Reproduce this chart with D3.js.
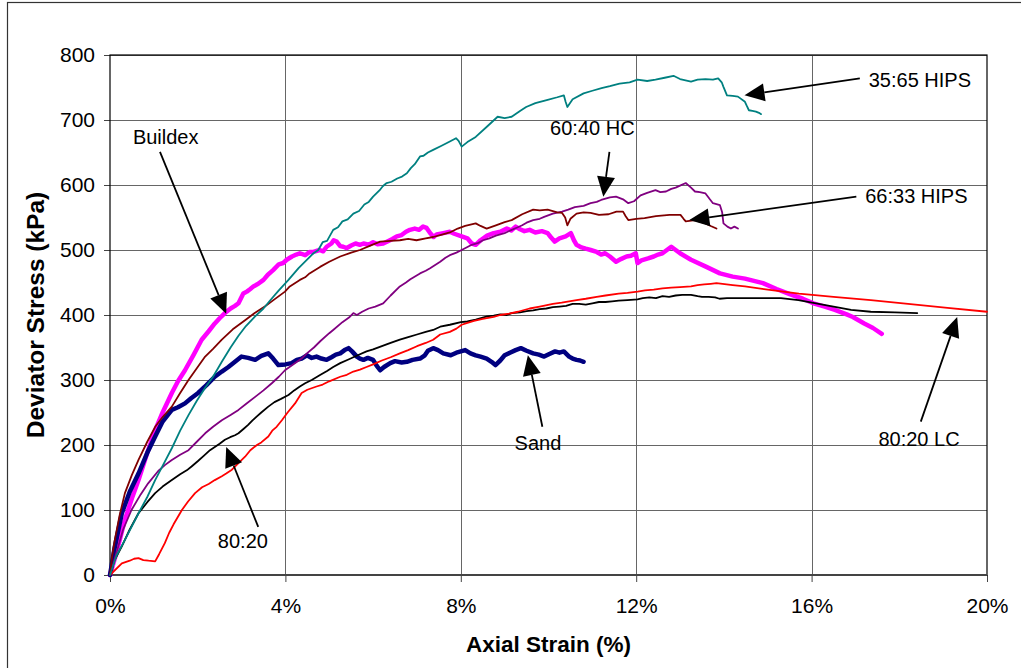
<!DOCTYPE html>
<html>
<head>
<meta charset="utf-8">
<script src="https://cdn.jsdelivr.net/npm/d3@7"></script>
<style>
  html, body { margin: 0; padding: 0; background: #fff; }
  svg { display: block; font-family: "Liberation Sans", Arial, sans-serif; }
</style>
</head>
<body>
<svg id="chart" width="1021" height="668"></svg>
<script>
// Axis ticks
const xTicks = [0, 4, 8, 12, 16, 20];
const xTickLabels = ["0%", "4%", "8%", "12%", "16%", "20%"];
const yTicks = [0, 100, 200, 300, 400, 500, 600, 700, 800];

// Triaxial test curves: [axial strain %, deviator stress kPa]
const buildex = [
  [0,0],[0.15,35],[0.34,85],[0.5,118],[0.65,146],[0.85,188],[1.03,223],[1.2,250],[1.41,280],
  [1.55,298],[1.71,315],[1.9,338],[2.09,362],[2.25,375],[2.39,387],[2.5,395],[2.62,403],
  [2.75,410],[2.85,414],[2.93,418],[3.04,433],[3.12,436],[3.2,440],[3.27,444],[3.38,448],
  [3.5,454],[3.6,462],[3.72,469],[3.85,478],[3.95,480],[4.03,485],[4.15,490],[4.25,493],
  [4.33,495],[4.45,492],[4.55,497],[4.64,497],[4.78,500],[4.86,498],[4.94,505],[5.05,510],
  [5.1,515],[5.17,513],[5.25,506],[5.32,505],[5.4,503],[5.5,507],[5.6,510],[5.7,508],
  [5.78,510],[5.9,508],[6.0,512],[6.1,509],[6.23,510],[6.35,514],[6.44,517],[6.54,521],
  [6.65,523],[6.75,528],[6.84,531],[6.95,533],[7.05,531],[7.14,536],[7.22,534],[7.3,526],
  [7.38,520],[7.45,524],[7.6,526],[7.75,528],[7.85,525],[8.02,521],[8.15,518],[8.25,510],
  [8.34,508],[8.45,515],[8.6,522],[8.75,526],[8.9,528],[9.05,533],[9.15,530],[9.25,536],
  [9.35,532],[9.45,529],[9.57,531],[9.7,527],[9.85,529],[9.98,526],[10.05,520],[10.14,513],
  [10.25,518],[10.39,521],[10.51,526],[10.58,515],[10.64,508],[10.75,504],[10.85,502],[10.96,500],
  [11.1,497],[11.2,493],[11.29,495],[11.4,490],[11.54,482],[11.65,486],[11.78,490],[11.88,491],
  [11.99,495],[12.03,480],[12.12,484],[12.27,487],[12.4,490],[12.5,493],[12.6,495],[12.7,500],
  [12.8,505],[12.9,500],[13.0,495],[13.25,485],[13.6,474],[13.91,464],[14.2,459],[14.48,456],
  [14.89,449],[15.2,440],[15.5,432],[15.8,425],[16.04,418],[16.3,413],[16.53,408],[16.8,401],
  [16.94,397],[17.2,387],[17.4,380],[17.6,371]
];

const sand = [
  [0,0],[0.1,40],[0.27,95],[0.45,128],[0.65,156],[0.85,188],[1.03,213],[1.2,236],[1.41,254],
  [1.55,258],[1.71,264],[1.85,272],[2.01,280],[2.2,292],[2.39,305],[2.55,313],[2.7,320],
  [2.85,328],[3.0,336],[3.15,334],[3.31,331],[3.45,337],[3.61,341],[3.72,333],[3.84,323],
  [4.0,324],[4.14,326],[4.26,331],[4.37,333],[4.49,338],[4.6,334],[4.71,336],[4.82,333],
  [4.94,331],[5.05,335],[5.15,339],[5.25,341],[5.35,346],[5.44,349],[5.52,344],[5.63,336],
  [5.7,333],[5.78,331],[5.88,334],[6.0,331],[6.08,322],[6.16,315],[6.25,320],[6.39,326],
  [6.5,329],[6.65,327],[6.77,328],[6.9,331],[7.07,333],[7.18,338],[7.25,345],[7.37,349],
  [7.48,346],[7.6,341],[7.77,338],[7.9,342],[8.1,346],[8.22,341],[8.34,338],[8.45,336],
  [8.59,333],[8.7,328],[8.79,323],[8.9,330],[9.0,338],[9.12,342],[9.25,346],[9.37,349],
  [9.5,345],[9.65,341],[9.78,339],[9.9,336],[10.02,340],[10.15,344],[10.25,342],[10.35,344],
  [10.47,336],[10.55,333],[10.64,331],[10.72,330],[10.8,328]
];

const mix8020 = [
  [0,0],[0.1,22],[0.27,44],[0.45,70],[0.65,95],[0.85,112],[1.03,126],[1.2,136],[1.41,146],
  [1.6,155],[1.75,161],[1.86,167],[2.0,175],[2.15,184],[2.28,192],[2.39,197],[2.5,202],
  [2.62,208],[2.74,212],[2.85,215],[2.93,218],[3.05,225],[3.15,231],[3.25,238],[3.35,244],
  [3.45,250],[3.61,259],[3.75,266],[3.9,271],[4.07,277],[4.2,284],[4.33,290],[4.45,295],
  [4.6,300],[4.8,308],[4.95,314],[5.09,320],[5.25,326],[5.45,332],[5.65,338],[5.85,344],
  [6.0,347],[6.2,352],[6.4,357],[6.61,362],[6.8,366],[7.0,370],[7.2,374],[7.37,377],
  [7.53,382],[7.75,385],[8.0,389],[8.15,390],[8.34,393],[8.5,396],[8.6,398],[8.75,399],
  [8.9,401],[9.05,400],[9.16,403],[9.35,404],[9.5,406],[9.65,407],[9.8,409],[9.95,410],
  [10.1,412],[10.25,413],[10.4,414],[10.55,417],[10.7,417],[10.85,416],[11.0,418],[11.15,420],
  [11.3,420],[11.45,421],[11.6,422],[11.8,423],[12.03,424],[12.15,426],[12.3,427],[12.45,426],
  [12.6,429],[12.75,428],[12.9,430],[13.05,431],[13.25,431],[13.4,429],[13.5,428],[13.65,428],
  [13.8,427],[13.9,425],[14.07,426],[14.5,426],[15.0,426],[15.3,426],[15.7,423],[16.1,418],
  [16.5,413],[16.9,408],[17.35,405],[17.9,404],[18.41,403]
];

const mix8020LC = [
  [0,0],[0.27,18],[0.45,22],[0.55,25],[0.65,26],[0.76,23],[0.88,22],[1.03,21],[1.12,32],
  [1.25,49],[1.35,65],[1.45,78],[1.64,100],[1.78,113],[1.94,126],[2.1,135],[2.25,140],
  [2.39,146],[2.55,152],[2.65,156],[2.78,162],[2.93,172],[3.08,182],[3.2,192],[3.35,200],
  [3.45,204],[3.61,213],[3.7,222],[3.8,228],[3.92,238],[4.05,250],[4.22,264],[4.37,280],
  [4.5,285],[4.71,290],[4.85,293],[5.0,298],[5.25,305],[5.4,308],[5.55,313],[5.7,316],
  [5.85,320],[6.0,324],[6.2,330],[6.4,335],[6.61,341],[6.8,346],[7.0,352],[7.2,357],
  [7.37,362],[7.53,370],[7.75,374],[7.9,379],[8.02,385],[8.15,388],[8.3,391],[8.5,394],
  [8.75,397],[8.9,400],[9.1,402],[9.3,405],[9.57,410],[9.8,413],[10.1,417],[10.3,419],
  [10.64,423],[10.85,425],[11.1,428],[11.3,430],[11.6,433],[11.8,434],[12.03,436],[12.2,438],
  [12.4,439],[12.6,441],[12.8,442],[13.0,443],[13.25,444],[13.4,446],[13.55,447],[13.7,448],
  [13.83,449],[14.2,446],[14.48,444],[15.0,439],[15.71,433],[16.5,428],[17.35,423],[18.2,417],
  [19.1,411],[20.0,405]
];

const hc6040 = [
  [0,0],[0.15,35],[0.3,70],[0.49,100],[0.7,124],[0.87,141],[1.1,160],[1.25,169],[1.41,177],
  [1.6,185],[1.79,192],[1.98,205],[2.17,218],[2.35,228],[2.55,238],[2.75,246],[2.93,254],
  [3.1,263],[3.31,274],[3.5,284],[3.69,295],[3.85,305],[3.99,315],[4.2,325],[4.37,333],
  [4.49,341],[4.65,350],[4.8,360],[5.0,372],[5.09,377],[5.3,389],[5.45,396],[5.55,403],
  [5.63,400],[5.75,405],[5.9,410],[6.05,413],[6.23,418],[6.4,430],[6.61,444],[6.75,450],
  [6.85,455],[7.07,464],[7.2,468],[7.3,472],[7.53,482],[7.65,488],[7.75,492],[7.9,496],
  [8.02,500],[8.25,508],[8.4,511],[8.51,515],[8.65,518],[8.8,522],[9.0,526],[9.16,531],
  [9.3,535],[9.4,538],[9.5,542],[9.65,546],[9.8,548],[9.9,551],[10.1,556],[10.31,559],
  [10.45,562],[10.6,566],[10.8,568],[10.96,572],[11.1,574],[11.2,577],[11.4,581],[11.54,582],
  [11.7,578],[11.82,572],[11.95,575],[12.1,584],[12.25,588],[12.44,592],[12.55,589],[12.68,590],
  [12.8,594],[12.9,596],[13.0,599],[13.13,603],[13.25,596],[13.34,590],[13.45,589],[13.58,587],
  [13.68,578],[13.75,572],[13.91,569],[13.96,558],[13.99,541],[14.08,536],[14.16,533],[14.24,536],
  [14.32,533]
];

const hips6633 = [
  [0,0],[0.05,30],[0.11,54],[0.22,92],[0.34,126],[0.5,154],[0.65,177],[0.85,205],[1.03,228],
  [1.2,243],[1.41,259],[1.6,280],[1.79,300],[1.98,318],[2.17,336],[2.35,348],[2.55,362],
  [2.8,378],[3.08,392],[3.3,403],[3.53,413],[3.75,424],[3.99,436],[4.1,444],[4.33,454],
  [4.45,458],[4.55,464],[4.79,474],[5.0,482],[5.25,490],[5.5,496],[5.7,500],[5.95,507],
  [6.16,513],[6.4,514],[6.61,515],[6.8,517],[6.99,515],[7.2,518],[7.37,520],[7.53,523],
  [7.75,527],[7.93,533],[8.1,537],[8.34,541],[8.45,537],[8.59,533],[8.8,538],[9.0,543],
  [9.16,546],[9.4,555],[9.65,562],[9.8,561],[9.98,562],[10.2,558],[10.31,557],[10.38,550],
  [10.43,538],[10.5,548],[10.64,556],[10.8,558],[10.96,557],[11.15,554],[11.37,555],[11.55,559],
  [11.7,559],[11.76,552],[11.82,546],[12.0,548],[12.19,549],[12.45,552],[12.76,554],[13.01,554],
  [13.08,548],[13.13,544],[13.34,546],[13.58,541],[13.7,537],[13.83,533]
];

const hips3565 = [
  [0,0],[0.15,30],[0.34,54],[0.65,95],[0.85,120],[1.03,146],[1.2,168],[1.41,195],[1.6,222],
  [1.79,246],[1.98,268],[2.17,288],[2.35,305],[2.55,328],[2.75,350],[2.93,368],[3.1,383],
  [3.31,398],[3.5,410],[3.66,423],[3.85,438],[4.07,454],[4.3,472],[4.64,495],[4.75,500],
  [4.85,512],[4.95,514],[5.09,531],[5.2,535],[5.3,544],[5.42,547],[5.55,556],[5.68,560],
  [5.8,570],[5.9,574],[6.0,582],[6.15,592],[6.22,598],[6.31,603],[6.42,605],[6.55,610],
  [6.66,613],[6.77,618],[6.86,626],[6.95,632],[7.07,644],[7.15,645],[7.25,650],[7.37,654],
  [7.55,660],[7.75,667],[7.89,672],[7.95,668],[8.02,659],[8.15,666],[8.34,674],[8.6,690],
  [8.84,705],[9.0,703],[9.16,705],[9.35,714],[9.49,720],[9.7,726],[9.98,731],[10.2,735],
  [10.35,738],[10.39,728],[10.43,720],[10.55,732],[10.8,741],[11.0,745],[11.21,749],[11.4,752],
  [11.62,756],[11.85,758],[12.03,762],[12.25,760],[12.44,762],[12.65,765],[12.85,768],[13.0,763],
  [13.25,759],[13.4,762],[13.58,763],[13.75,762],[13.87,764],[13.95,758],[13.99,751],[14.07,738],
  [14.2,737],[14.32,736],[14.48,728],[14.52,722],[14.57,715],[14.65,714],[14.73,713],[14.8,711],
  [14.85,709]
];

// Curve labels with arrows: text anchor, arrow start and arrow tip in data units
const labelNames = ["Buildex", "60:40 HC", "35:65 HIPS", "66:33 HIPS", "Sand", "80:20 LC", "80:20"];
const labelText  = [[1.27,663],[11.0,677],[18.47,751],[18.39,572],[9.76,192],[18.45,199],[3.03,41]];
const arrowFrom  = [[1.14,651],[11.39,651],[17.1,764],[17.02,582],[9.86,228],[18.49,236],[3.38,74]];
const arrowTo    = [[2.65,402],[11.25,582],[14.47,738],[13.21,546],[9.53,338],[19.32,397],[2.65,197]];

const W = 1021, H = 668;
const margin = { left: 110, right: W - 987, top: 55, bottom: H - 575 };
const svg = d3.select("#chart");

// outer frame
svg.append("rect")
  .attr("x", 7.5).attr("y", 2.5).attr("width", W + 20).attr("height", H + 20)
  .attr("fill", "none").attr("stroke", "#333").attr("stroke-width", 1.2);

const x = d3.scaleLinear().domain([0, 20]).range([margin.left, W - margin.right]);
const y = d3.scaleLinear().domain([0, 800]).range([H - margin.bottom, margin.top]);

// gridlines
const grid = svg.append("g").attr("stroke", "#666").attr("stroke-width", 1);
grid.selectAll("line.h").data(yTicks.filter(v => v > 0)).join("line")
  .attr("x1", x(0)).attr("x2", x(20))
  .attr("y1", d => Math.round(y(d)) + 0.5).attr("y2", d => Math.round(y(d)) + 0.5);
grid.selectAll("line.v").data(xTicks.filter(v => v > 0 && v < 20)).join("line")
  .attr("y1", y(0)).attr("y2", y(800))
  .attr("x1", d => Math.round(x(d)) + 0.5).attr("x2", d => Math.round(x(d)) + 0.5);

// axes
const xAxis = d3.axisBottom(x).tickValues(xTicks)
  .tickFormat((d, i) => xTickLabels[i]).tickSizeInner(7).tickSizeOuter(0).tickPadding(16);
const yAxis = d3.axisLeft(y).tickValues(yTicks).tickSizeInner(6).tickSizeOuter(0).tickPadding(9);

const gx = svg.append("g").attr("transform", `translate(0,${y(0)})`).call(xAxis);
const gy = svg.append("g").attr("transform", `translate(${x(0)},0)`).call(yAxis);
[gx, gy].forEach(g => {
  g.select(".domain").remove();
  g.selectAll(".tick line").attr("stroke", "#444");
  g.selectAll(".tick text").attr("fill", "#000")
    .style("font-size", "21px").style("font-family", "'Liberation Sans', Arial, sans-serif");
});

// plot border
svg.append("rect")
  .attr("x", x(0)).attr("y", y(800)).attr("width", x(20) - x(0)).attr("height", y(0) - y(800))
  .attr("fill", "none").attr("stroke", "#000").attr("stroke-width", 1.2);
svg.append("line")
  .attr("x1", x(0)).attr("x2", x(20)).attr("y1", y(0)).attr("y2", y(0))
  .attr("stroke", "#444").attr("stroke-width", 2);

// data lines
const line = d3.line().x(d => x(d[0])).y(d => y(d[1]));
const series = [
  { data: buildex,   color: "#ff00ff", width: 4.5 },
  { data: sand,      color: "#000080", width: 4.5 },
  { data: mix8020,   color: "#000000", width: 1.8 },
  { data: mix8020LC, color: "#ff0000", width: 1.8 },
  { data: hc6040,    color: "#800080", width: 1.8 },
  { data: hips6633,  color: "#800000", width: 1.8 },
  { data: hips3565,  color: "#008080", width: 1.8 }
];
svg.append("g").selectAll("path").data(series).join("path")
  .attr("d", d => line(d.data))
  .attr("fill", "none")
  .attr("stroke", d => d.color)
  .attr("stroke-width", d => d.width)
  .attr("stroke-linejoin", "round")
  .attr("stroke-linecap", "round");

// annotations
const ann = svg.append("g");
labelNames.forEach((name, i) => {
  const x0 = x(arrowFrom[i][0]), y0 = y(arrowFrom[i][1]);
  const x1 = x(arrowTo[i][0]), y1 = y(arrowTo[i][1]);
  const ang = Math.atan2(y1 - y0, x1 - x0);
  const len = 20, half = 9;
  const bx = x1 - len * Math.cos(ang), by = y1 - len * Math.sin(ang);
  const px = -Math.sin(ang) * half, py = Math.cos(ang) * half;
  ann.append("line")
    .attr("x1", x0).attr("y1", y0).attr("x2", bx).attr("y2", by)
    .attr("stroke", "#000").attr("stroke-width", 1.8);
  ann.append("path")
    .attr("d", `M${x1},${y1}L${bx + px},${by + py}L${bx - px},${by - py}Z`)
    .attr("fill", "#000");
  ann.append("text")
    .attr("x", x(labelText[i][0])).attr("y", y(labelText[i][1]))
    .attr("text-anchor", "middle")
    .style("font-size", "20px")
    .text(name);
});

// axis titles
svg.append("text")
  .attr("x", (x(0) + x(20)) / 2).attr("y", 652)
  .attr("text-anchor", "middle")
  .style("font-size", "22.5px").style("font-weight", "bold")
  .text("Axial Strain (%)");
svg.append("text")
  .attr("transform", `translate(44,${(y(0) + y(800)) / 2}) rotate(-90)`)
  .attr("text-anchor", "middle")
  .style("font-size", "24.5px").style("font-weight", "bold")
  .text("Deviator Stress (kPa)");
</script>
</body>
</html>
